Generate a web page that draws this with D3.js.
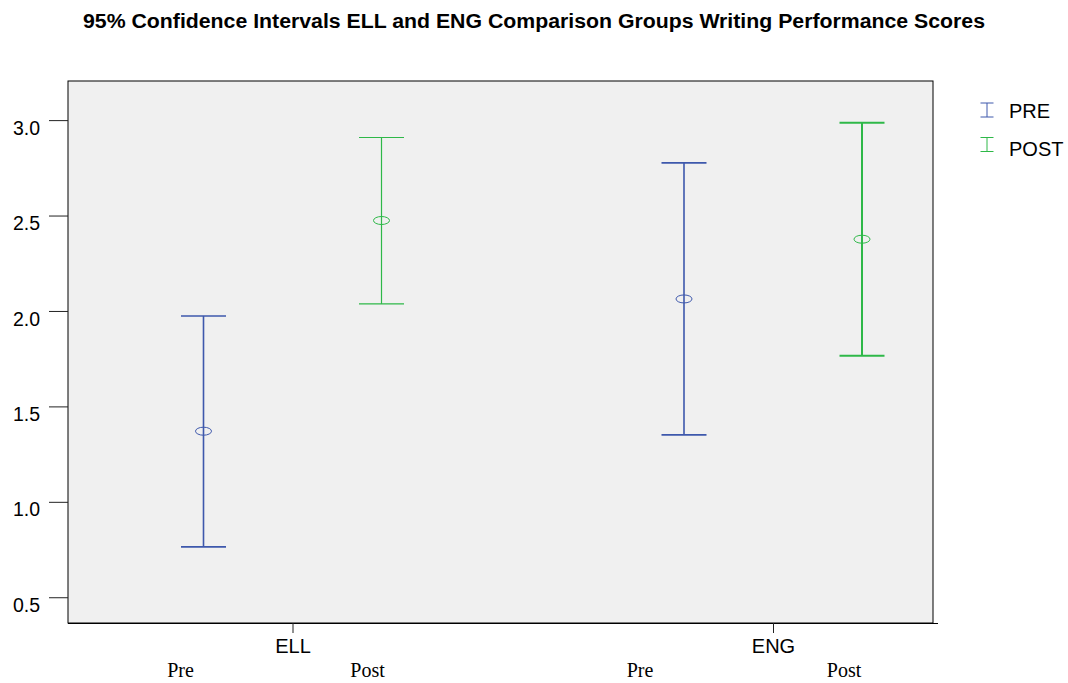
<!DOCTYPE html>
<html lang="en">
	<head>
		<meta charset="utf-8">
		<title>95% Confidence Intervals ELL and ENG</title>
		<script type="text/javascript" src="https://cdn.jsdelivr.net/npm/d3@7"></script>
		<style type="text/css">
			body {
				margin: 0;
				background: #ffffff;
			}
			text {
				font-family: "Liberation Sans", Arial, sans-serif;
				fill: #000000;
			}
			.serif {
				font-family: "Liberation Serif", "Times New Roman", serif;
			}
		</style>
	</head>
	<body>
		<script type="text/javascript">

			// Data
			var groups = ["ELL", "ENG"];
			var phases = ["PRE", "POST"];
			var phaseLabels = ["Pre", "Post"];
			var means = [[1.37, 2.474], [2.063, 2.376]];
			var lower = [[0.764, 2.037], [1.351, 1.765]];
			var upper = [[1.974, 2.909], [2.776, 2.986]];
			var yTicks = [0.5, 1.0, 1.5, 2.0, 2.5, 3.0];

			var w = 1068;
			var h = 683;
			var plot = {left: 68, top: 81, right: 933, bottom: 623};
			var colors = ["#3E58AC", "#2EB848"];
			var capHalf = 22.5;

			var svg = d3.select("body")
						.append("svg")
						.attr("width", w)
						.attr("height", h);

			var y = d3.scaleLinear()
						.domain([0.365, 3.205])
						.range([plot.bottom, plot.top]);

			var x = d3.scalePoint()
						.domain(groups)
						.range([plot.left + 224.5, plot.right - 160]);

			var xPhase = d3.scalePoint()
						.domain(phases)
						.range([-89, 89]);

			// title
			svg.append("text")
				.attr("x", 83)
				.attr("y", 28)
				.attr("textLength", 902)
				.attr("lengthAdjust", "spacingAndGlyphs")
				.style("font-weight", "bold")
				.style("font-size", "19.5px")
				.text("95% Confidence Intervals ELL and ENG Comparison Groups Writing Performance Scores");

			// plot background
			svg.append("rect")
				.attr("x", plot.left)
				.attr("y", plot.top)
				.attr("width", plot.right - plot.left)
				.attr("height", plot.bottom - plot.top)
				.attr("fill", "#f0f0f0")
				.attr("stroke", "#000")
				.attr("stroke-width", 1);

			// y axis
			var yAxis = d3.axisLeft(y)
						.tickValues(yTicks)
						.tickFormat(d3.format(".1f"))
						.tickSize(19)
						.tickPadding(9);

			var gy = svg.append("g")
				.attr("transform", "translate(" + plot.left + ",0)")
				.call(yAxis);
			gy.select(".domain").remove();
			gy.selectAll("line").attr("stroke", "#222");
			gy.selectAll("text")
				.attr("dy", "0.72em")
				.style("font-size", "19.5px")
				.style("font-family", "\"Liberation Sans\", Arial, sans-serif");

			// x axis
			var xAxis = d3.axisBottom(x)
						.tickSize(10)
						.tickPadding(6)
						.tickSizeOuter(0);

			var gx = svg.append("g")
				.attr("transform", "translate(0," + plot.bottom + ")")
				.call(xAxis);
			gx.select(".domain")
				.attr("d", "M" + plot.left + ",0.5H" + (plot.right + 5))
				.attr("stroke", "#000");
			gx.selectAll("line").attr("stroke", "#222");
			gx.selectAll("text")
				.style("font-size", "20px")
				.style("font-family", "\"Liberation Sans\", Arial, sans-serif");

			// error bars
			var bars = [];
			groups.forEach(function(g, gi) {
				phases.forEach(function(p, pi) {
					bars.push({group: g, phase: p, gi: gi, pi: pi,
						mean: means[gi][pi], lo: lower[gi][pi], hi: upper[gi][pi]});
				});
			});

			var strokeW = {"ELL-PRE": 1.6, "ELL-POST": 1.2, "ENG-PRE": 1.6, "ENG-POST": 2};

			var bar = svg.selectAll("g.bar")
				.data(bars)
				.enter()
				.append("g")
				.attr("class", "bar")
				.attr("transform", function(d) {
					return "translate(" + (x(d.group) + xPhase(d.phase)) + ",0)";
				})
				.attr("stroke", function(d) { return colors[d.pi]; })
				.attr("stroke-width", function(d) { return strokeW[d.group + "-" + d.phase]; })
				.attr("fill", "none");

			bar.append("line")
				.attr("x1", 0).attr("x2", 0)
				.attr("y1", function(d) { return y(d.hi); })
				.attr("y2", function(d) { return y(d.lo); });

			bar.append("line")
				.attr("x1", -capHalf).attr("x2", capHalf)
				.attr("y1", function(d) { return y(d.hi); })
				.attr("y2", function(d) { return y(d.hi); });

			bar.append("line")
				.attr("x1", -capHalf).attr("x2", capHalf)
				.attr("y1", function(d) { return y(d.lo); })
				.attr("y2", function(d) { return y(d.lo); });

			bar.append("ellipse")
				.attr("cx", 0)
				.attr("cy", function(d) { return y(d.mean); })
				.attr("rx", 8)
				.attr("ry", 4)
				.attr("fill", "none")
				.attr("stroke-width", 1);

			// Pre / Post annotations under the axis
			var annotOffset = {"ELL": [-112, 75], "ENG": [-133, 71]};
			var annots = [];
			groups.forEach(function(g) {
				phaseLabels.forEach(function(lbl, pi) {
					annots.push({group: g, label: lbl, pi: pi});
				});
			});

			svg.selectAll("text.annot")
				.data(annots)
				.enter()
				.append("text")
				.attr("class", "annot serif")
				.attr("x", function(d) { return x(d.group) + annotOffset[d.group][d.pi]; })
				.attr("y", 677)
				.attr("text-anchor", "middle")
				.style("font-size", "20px")
				.text(function(d) { return d.label; });

			// legend
			var legend = svg.selectAll("g.legend")
				.data(phases)
				.enter()
				.append("g")
				.attr("class", "legend")
				.attr("transform", function(d, i) {
					return "translate(987," + (110 + i * 34.5) + ")";
				});

			legend.append("path")
				.attr("d", "M-6.5,-7H6.5M0,-7V7M-6.5,7H6.5")
				.attr("fill", "none")
				.attr("stroke", function(d, i) { return colors[i]; })
				.attr("stroke-width", 1);

			legend.append("text")
				.attr("x", 22)
				.attr("y", function(d, i) { return 8 + i * 3; })
				.style("font-size", "20px")
				.text(function(d) { return d; });

		</script>
	</body>
</html>
